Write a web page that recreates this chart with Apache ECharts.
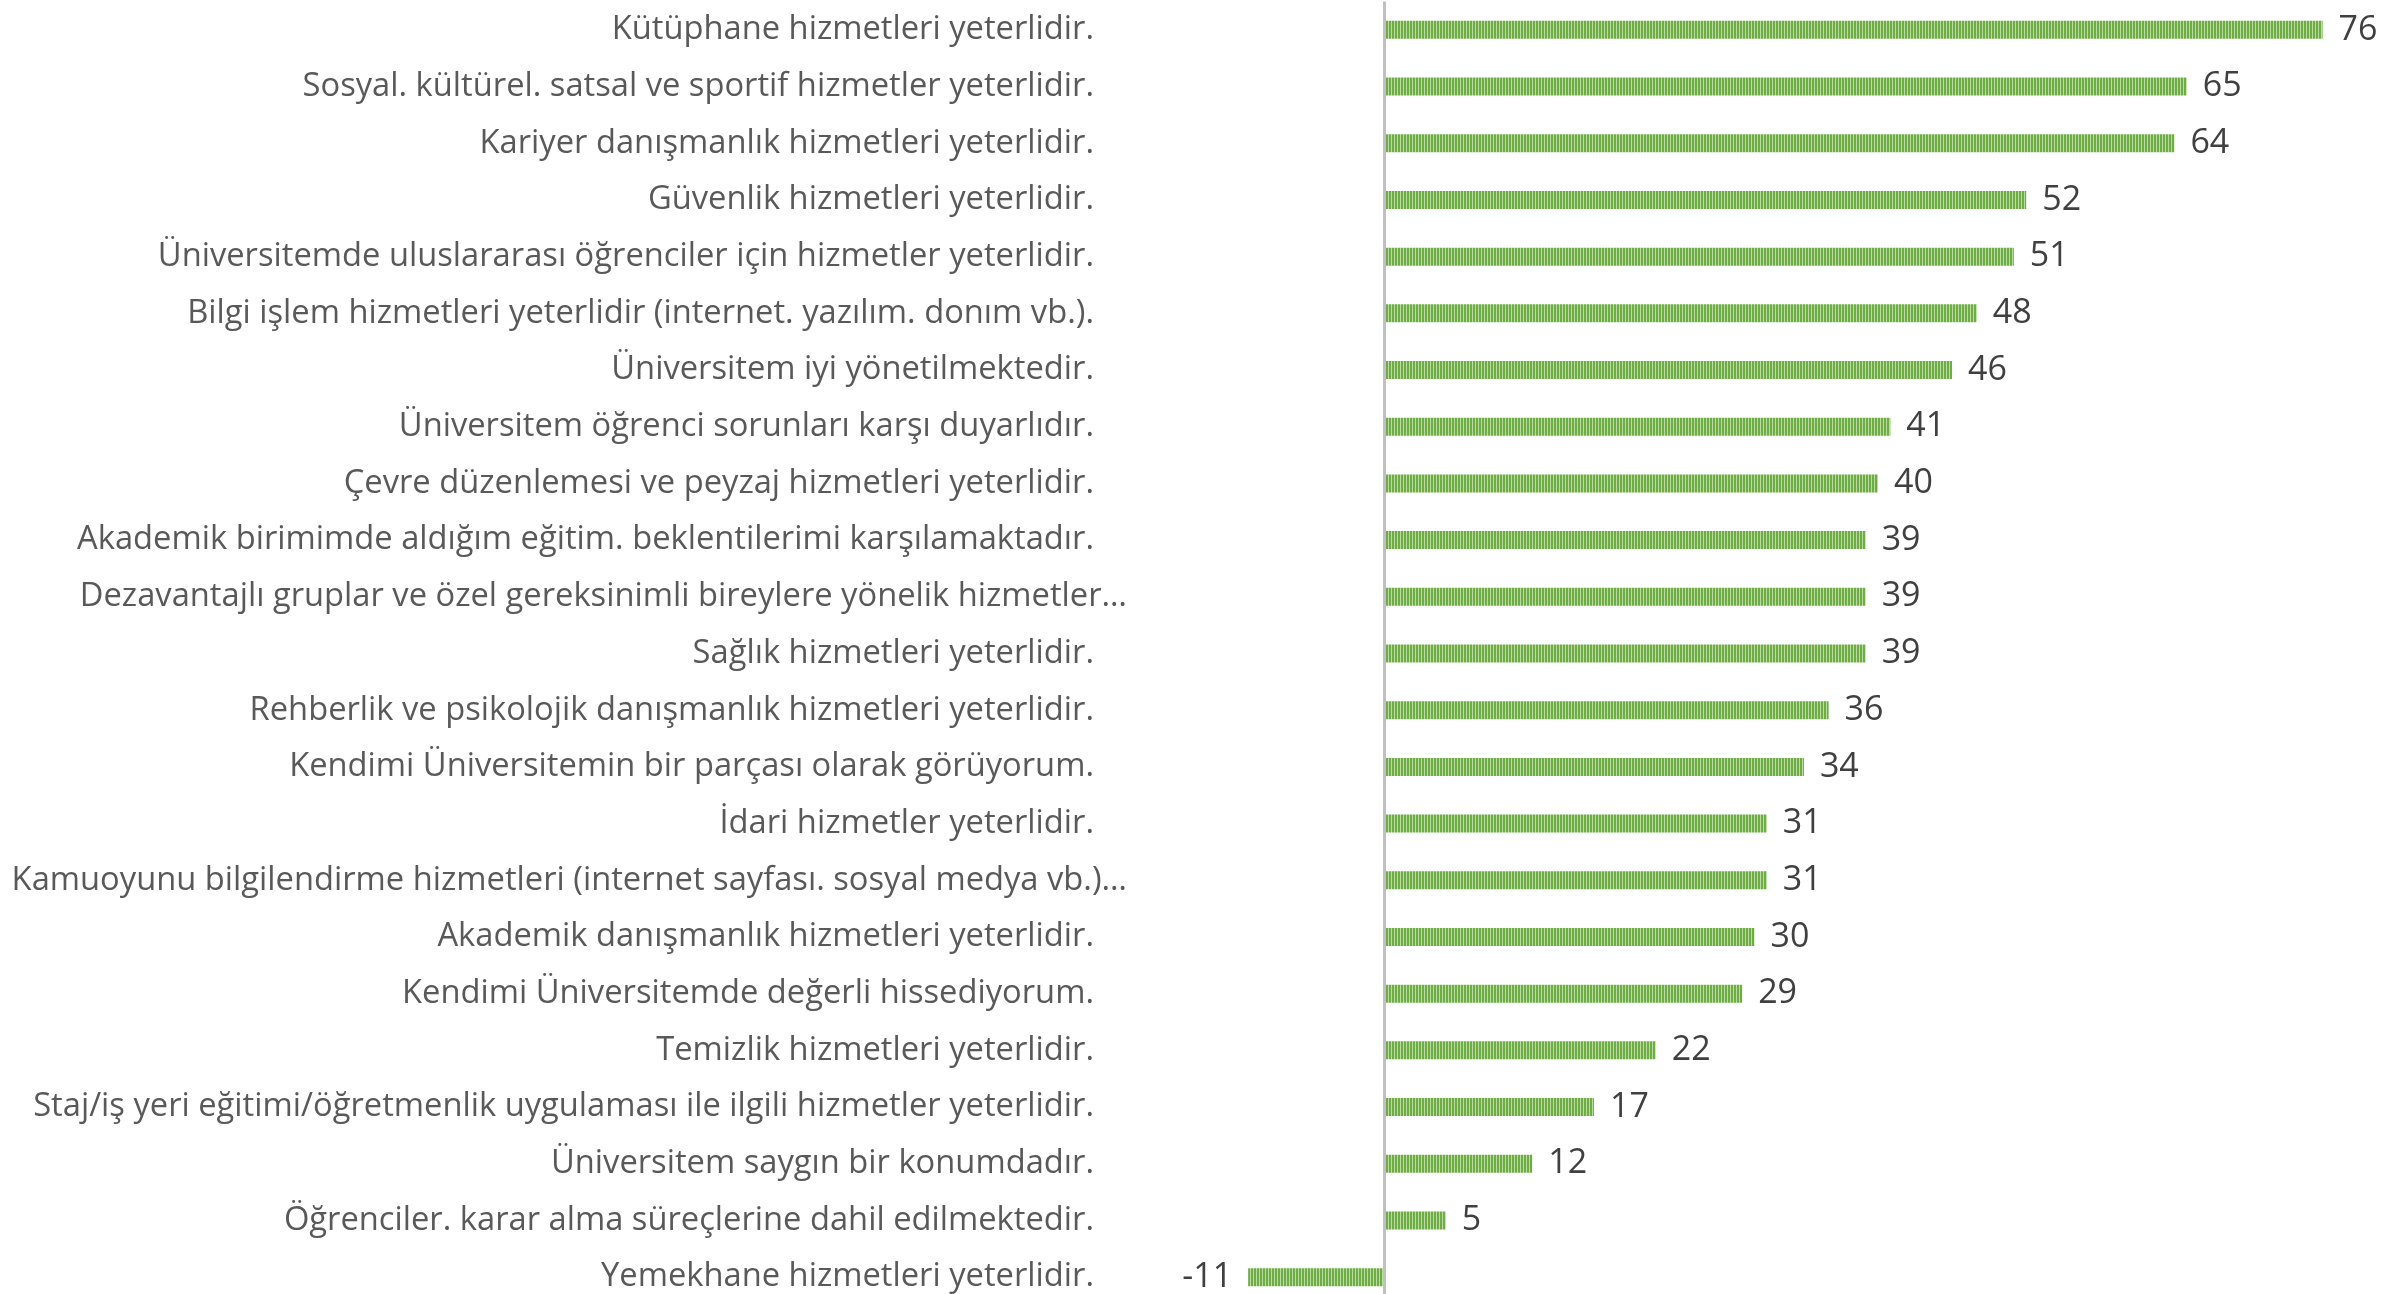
<!DOCTYPE html>
<html>
<head>
<meta charset="utf-8">
<style>
html,body{margin:0;padding:0;background:#fff;overflow:hidden;}
#chart{width:2405px;height:1312px;}
</style>
<script src="https://cdn.jsdelivr.net/npm/echarts@6/dist/echarts.min.js"></script>
</head>
<body>
<div id="chart"></div>
<script>
const categories = [
  "Kütüphane hizmetleri yeterlidir.",
  "Sosyal. kültürel. satsal ve sportif hizmetler yeterlidir.",
  "Kariyer danışmanlık hizmetleri yeterlidir.",
  "Güvenlik hizmetleri yeterlidir.",
  "Üniversitemde uluslararası öğrenciler için hizmetler yeterlidir.",
  "Bilgi işlem hizmetleri yeterlidir (internet. yazılım. donım vb.).",
  "Üniversitem iyi yönetilmektedir.",
  "Üniversitem öğrenci sorunları karşı duyarlıdır.",
  "Çevre düzenlemesi ve peyzaj hizmetleri yeterlidir.",
  "Akademik birimimde aldığım eğitim. beklentilerimi karşılamaktadır.",
  "Dezavantajlı gruplar ve özel gereksinimli bireylere yönelik hizmetler…",
  "Sağlık hizmetleri yeterlidir.",
  "Rehberlik ve psikolojik danışmanlık hizmetleri yeterlidir.",
  "Kendimi Üniversitemin bir parçası olarak görüyorum.",
  "İdari hizmetler yeterlidir.",
  "Kamuoyunu bilgilendirme hizmetleri (internet sayfası. sosyal medya vb.)…",
  "Akademik danışmanlık hizmetleri yeterlidir.",
  "Kendimi Üniversitemde değerli hissediyorum.",
  "Temizlik hizmetleri yeterlidir.",
  "Staj/iş yeri eğitimi/öğretmenlik uygulaması ile ilgili hizmetler yeterlidir.",
  "Üniversitem saygın bir konumdadır.",
  "Öğrenciler. karar alma süreçlerine dahil edilmektedir.",
  "Yemekhane hizmetleri yeterlidir."
];
const values = [76, 65, 64, 52, 51, 48, 46, 41, 40, 39, 39, 39, 36, 34, 31, 31, 30, 29, 22, 17, 12, 5, -11];

// striped pattern
const pc = document.createElement('canvas');
pc.width = 3; pc.height = 2;
const pctx = pc.getContext('2d');
pctx.fillStyle = '#6FAC46'; pctx.fillRect(0, 0, 2, 2);
pctx.fillStyle = '#B9DCA2'; pctx.fillRect(2, 0, 1, 2);

const chart = echarts.init(document.getElementById('chart'));
const seriesData = values.map(v => ({
  value: v,
  label: { position: v < 0 ? 'left' : 'right' }
}));

chart.setOption({
  animation: false,
  grid: { left: 1137, width: 1235, top: 1.5, height: 1304, containLabel: false },
  xAxis: {
    type: 'value', min: -20, max: 80, show: false
  },
  yAxis: {
    type: 'category', data: categories, inverse: true,
    axisLine: { show: false }, axisTick: { show: false },
    splitLine: { show: false },
    axisLabel: {
      margin: 10,
      fontFamily: 'Open Sans', fontSize: 32.7, color: '#595959',
      formatter: function (s) {
        return s.endsWith('…') ? '{b|' + s + '}' : '{a|' + s + '}';
      },
      rich: {
        a: { fontFamily: 'Open Sans', fontSize: 32.7, color: '#595959', padding: [0, 33, 0, 0] },
        b: { fontFamily: 'Open Sans', fontSize: 32.7, color: '#595959' }
      }
    }
  },
  series: [{
    type: 'bar',
    data: seriesData,
    barWidth: 18,
    itemStyle: { color: { image: pc, repeat: 'repeat' } },
    label: {
      show: true, distance: 16,
      fontFamily: 'Open Sans', fontSize: 34, color: '#404040'
    },
    markLine: {
      silent: true, symbol: 'none',
      label: { show: false },
      lineStyle: { color: '#C0C0C0', width: 3, type: 'solid' },
      data: [{ xAxis: 0 }]
    }
  }]
});
</script>
</body>
</html>
